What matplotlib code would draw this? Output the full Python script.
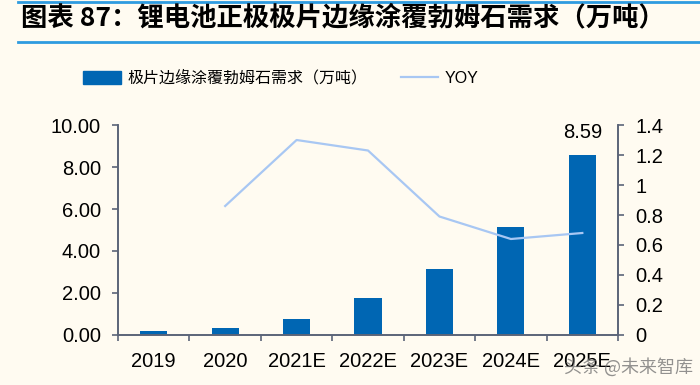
import matplotlib
matplotlib.use("Agg")
import matplotlib.pyplot as plt
from matplotlib.ticker import FixedLocator, FuncFormatter
from matplotlib.patches import Patch
from matplotlib.lines import Line2D

plt.rcParams['font.family'] = ['Liberation Sans', 'Noto Sans CJK SC', 'DejaVu Sans']

# data
years = ["2019", "2020", "2021E", "2022E", "2023E", "2024E", "2025E"]
demand = [0.18, 0.34, 0.78, 1.74, 3.12, 5.12, 8.59]   # 万吨
yoy = [None, 0.86, 1.30, 1.23, 0.79, 0.64, 0.68]

bar_label = "极片边缘涂覆勃姆石需求（万吨）"
title = "图表 87：锂电池正极极片边缘涂覆勃姆石需求（万吨）"

bg = "#FFFBF1"
bar_c = "#0066B3"
line_c = "#A8C7F3"
spine_c = "#5B6478"
fs = 14.5

fig = plt.figure(figsize=(7, 3.85), dpi=100, facecolor=bg)

# title + rules
fig.text(0.03, 0.953, title, fontsize=19, fontweight='bold',
         family=['Noto Sans CJK SC'], va='center', ha='left')
fig.add_artist(Line2D([0.026, 1.0], [0.996, 0.996], color="#2E9BE0", lw=2))
fig.add_artist(Line2D([0.026, 1.0], [0.890, 0.890], color="#2E9BE0", lw=2))

ax = fig.add_axes([0.1686, 0.1299, 0.7143, 0.5454], facecolor=bg)
x = list(range(len(years)))
ax.bar(x, demand, width=0.38, color=bar_c, zorder=2)
ax.set_xlim(-0.5, len(years) - 0.5)
ax.set_ylim(0, 10)
ax.set_yticks([0, 2, 4, 6, 8, 10])
ax.yaxis.set_major_formatter(FuncFormatter(lambda v, p: f"{v:.2f}"))
ax.set_xticks(x)
ax.set_xticklabels(years)
ax.xaxis.set_minor_locator(FixedLocator([i - 0.5 for i in range(len(years) + 1)]))
ax.tick_params(axis='x', which='major', length=0, labelsize=fs, pad=12)
ax.tick_params(axis='x', which='minor', length=4.3, color=spine_c, width=1.2)
ax.tick_params(axis='y', length=4.3, color=spine_c, width=1.2, labelsize=fs, pad=8)
ax.spines['top'].set_visible(False)
for s in ['left', 'bottom', 'right']:
    ax.spines[s].set_color(spine_c)
    ax.spines[s].set_linewidth(1.2)

ax.text(x[-1], demand[-1] + 0.6, f"{demand[-1]:.2f}", ha='center', va='bottom', fontsize=fs)

ax2 = ax.twinx()
xs = [i for i, v in zip(x, yoy) if v is not None]
ys = [v for v in yoy if v is not None]
ax2.plot(xs, ys, color=line_c, lw=1.6, zorder=3)
ax2.set_ylim(0, 1.4)
ax2.set_yticks([0, 0.2, 0.4, 0.6, 0.8, 1.0, 1.2, 1.4])
ax2.yaxis.set_major_formatter(FuncFormatter(lambda v, p: f"{v:g}"))
ax2.tick_params(axis='y', length=4.3, color=spine_c, width=1.2, labelsize=fs, pad=8)
ax2.spines['top'].set_visible(False)
for s in ['left', 'bottom', 'right']:
    ax2.spines[s].set_color(spine_c)
    ax2.spines[s].set_linewidth(1.2)

handles = [Patch(facecolor=bar_c, edgecolor=bar_c), Line2D([], [], color=line_c, lw=1.6)]
fig.legend(handles, [bar_label, "YOY"], loc='center left', bbox_to_anchor=(0.119, 0.797),
           ncol=2, frameon=False, borderpad=0, borderaxespad=0,
           handlelength=2.35, handleheight=0.9, columnspacing=2.1, handletextpad=0.4,
           prop={'family': ['Liberation Sans', 'Noto Sans CJK SC'], 'size': 11.5})

# watermark (overlaps the last x label, as in the source image)
fig.text(0.805, 0.045, "头条 @未来智库", fontsize=13, color="#6E6E6E", alpha=0.75,
         family=['Noto Sans CJK SC'], ha='left', va='center')

fig.savefig("out.png", dpi=100, facecolor=bg)
